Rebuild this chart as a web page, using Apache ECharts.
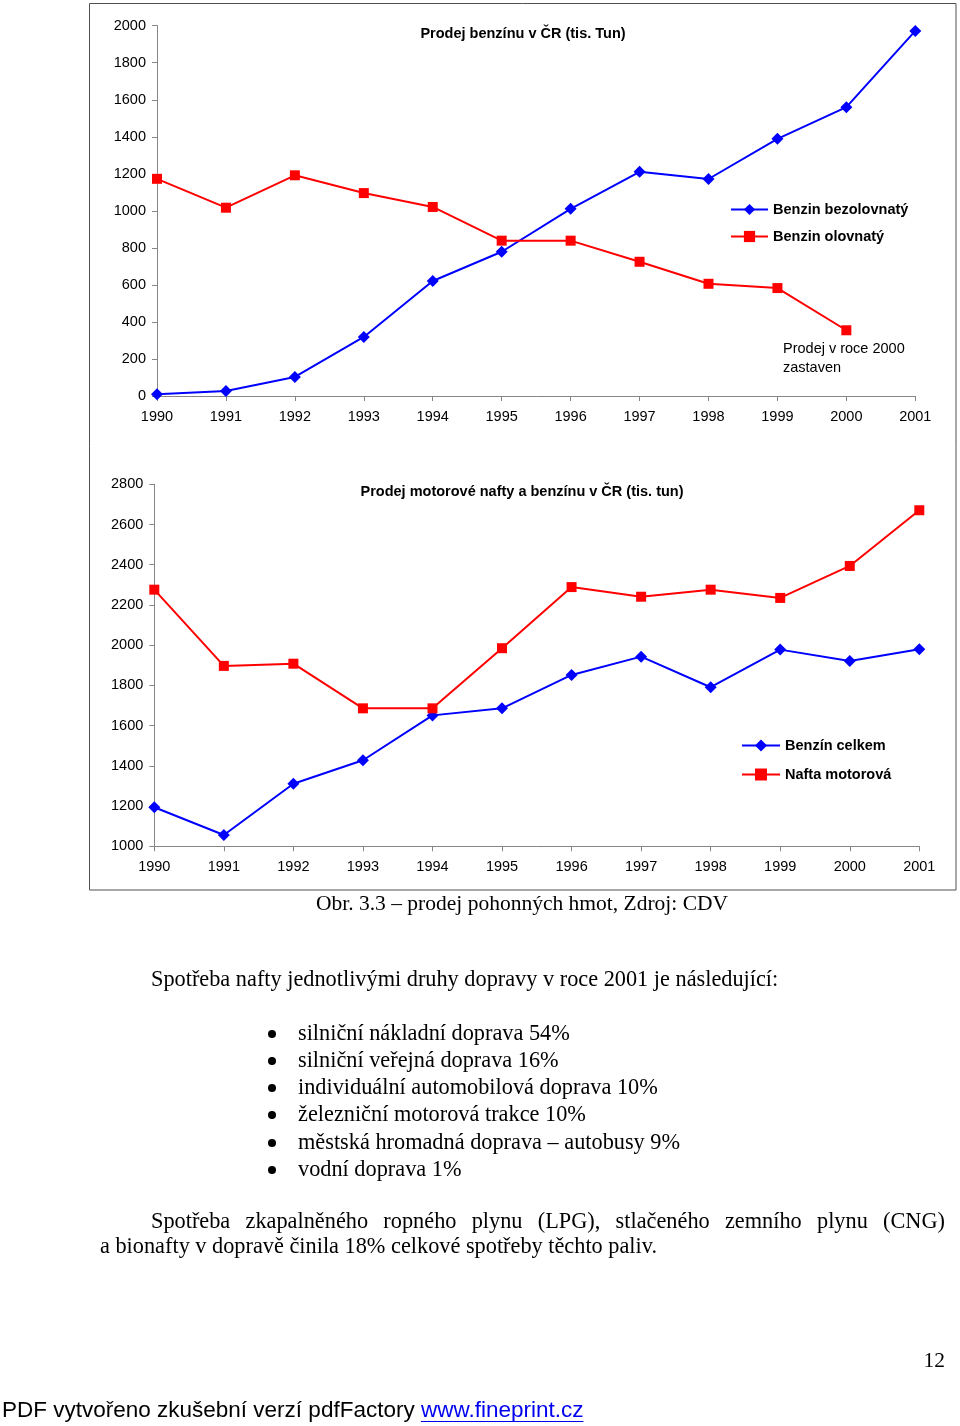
<!DOCTYPE html>
<html><head><meta charset="utf-8">
<script src="https://cdn.jsdelivr.net/npm/echarts@6/dist/echarts.min.js"></script>
<style>html,body{margin:0;padding:0;background:#fff}#c{width:960px;height:1426px}</style>
</head><body><div id="c"></div>
<script>
// ---------- data ----------
const years = ['1990','1991','1992','1993','1994','1995','1996','1997','1998','1999','2000','2001'];
const bezolovnaty = [10, 27, 103, 319, 621, 779, 1011, 1211, 1172, 1389, 1560, 1972];
const olovnaty = [1173, 1017, 1192, 1096, 1021, 839, 839, 725, 606, 583, 355, null];
const benzinCelkem = [1194, 1056, 1311, 1428, 1651, 1686, 1852, 1943, 1791, 1978, 1921, 1980];
const naftaMotorova = [2276, 1897, 1908, 1686, 1686, 1985, 2289, 2241, 2276, 2235, 2394, 2671];
const topAxis = { min: 0, max: 2000, interval: 200 };
const bottomAxis = { min: 1000, max: 2800, interval: 200 };
const topTitle = 'Prodej benzínu v ČR (tis. Tun)';
const bottomTitle = 'Prodej motorové nafty a benzínu v ČR (tis. tun)';
const topNames = ['Benzin bezolovnatý', 'Benzin olovnatý'];
const bottomNames = ['Benzín celkem', 'Nafta motorová'];
const note = ['Prodej v roce 2000', 'zastaven'];
const caption = 'Obr. 3.3 – prodej pohonných hmot, Zdroj: CDV';
const intro = 'Spotřeba nafty jednotlivými druhy dopravy v roce 2001 je následující:';
const bullets = [
  'silniční nákladní doprava 54%',
  'silniční veřejná doprava 16%',
  'individuální automobilová doprava 10%',
  'železniční motorová trakce 10%',
  'městská hromadná doprava – autobusy 9%',
  'vodní doprava 1%'
];
const para1 = 'Spotřeba zkapalněného ropného plynu (LPG), stlačeného zemního plynu (CNG)';
const para2 = 'a bionafty v dopravě činila 18% celkové spotřeby těchto paliv.';
const pageNo = '12';
const footer1 = 'PDF vytvořeno zkušební verzí pdfFactory ';
const footerLink = 'www.fineprint.cz';

// ---------- styles ----------
const SANS = '"Liberation Sans", Arial, sans-serif';
const SERIF = '"Liberation Serif", "Times New Roman", serif';
const BLUE = '#0000FF', RED = '#FF0000', AXIS = '#868686';
const FS = 14.5;
const captionFont = '21.5px ' + SERIF;
const serifFont = '22.3px ' + SERIF;

const mctx = document.createElement('canvas').getContext('2d');
function tw(str, font) { mctx.font = font; return mctx.measureText(str).width; }

const graphics = [];
function txt(x, y, s, font, opts) {
  graphics.push({
    type: 'text', x: x, y: y, silent: true,
    style: Object.assign({ text: s, font: font, fill: '#000', textAlign: 'left', textVerticalAlign: 'middle' }, (opts || {}))
  });
}

// frame
graphics.push({ type: 'rect', shape: { x: 89.5, y: 3.5, width: 866.5, height: 886.5 }, style: { fill: 'none', stroke: '#505050', lineWidth: 1 }, silent: true });
// chart titles
txt(523, 34, topTitle, 'bold ' + FS + 'px ' + SANS, { textAlign: 'center' });
txt(522, 492, bottomTitle, 'bold ' + FS + 'px ' + SANS, { textAlign: 'center' });
// note
txt(783, 349, note[0], FS + 'px ' + SANS);
txt(783, 368, note[1], FS + 'px ' + SANS);
// caption & text
txt(522, 904, caption, captionFont, { textAlign: 'center' });
txt(151, 980, intro, serifFont);
const by = [1034, 1061, 1088, 1115, 1143, 1170];
bullets.forEach((b, i) => {
  graphics.push({ type: 'circle', shape: { cx: 272, cy: by[i], r: 4 }, style: { fill: '#000' }, silent: true });
  txt(298, by[i], b, serifFont);
});
// justified line
(function () {
  const words = para1.split(' ');
  const left = 151, right = 945;
  const widths = words.map(w => tw(w, serifFont));
  const total = widths.reduce((a, b) => a + b, 0);
  const gap = (right - left - total) / (words.length - 1);
  let x = left;
  words.forEach((w, i) => { txt(x, 1222, w, serifFont); x += widths[i] + gap; });
})();
txt(100, 1247, para2, serifFont);
txt(945, 1361, pageNo, captionFont, { textAlign: 'right' });
// footer
const footFont = '22.5px ' + SANS;
txt(2, 1411, footer1, footFont);
const fx = 2 + tw(footer1, footFont);
txt(fx, 1411, footerLink, footFont, { fill: '#0000EE' });
graphics.push({ type: 'line', shape: { x1: fx, y1: 1421.5, x2: fx + tw(footerLink, footFont), y2: 1421.5 }, style: { stroke: '#0000EE', lineWidth: 1.2 }, silent: true });

function xAxis(gi) {
  return {
    type: 'category', gridIndex: gi, data: years, boundaryGap: false,
    axisLine: { lineStyle: { color: AXIS, width: 1 } },
    axisTick: { alignWithLabel: true, length: 5, lineStyle: { color: AXIS } },
    axisLabel: { color: '#000', fontFamily: SANS, fontSize: FS, margin: 13, interval: 0 },
    splitLine: { show: false }
  };
}
function yAxis(gi, ax) {
  return {
    type: 'value', gridIndex: gi, min: ax.min, max: ax.max, interval: ax.interval,
    axisLine: { show: true, lineStyle: { color: AXIS, width: 1 } },
    axisTick: { show: true, length: 5, lineStyle: { color: AXIS } },
    axisLabel: { color: '#000', fontFamily: SANS, fontSize: FS, margin: 11, formatter: v => String(v) },
    splitLine: { show: false }
  };
}
function ser(name, data, gi, color, symbol, size) {
  return {
    type: 'line', name: name, data: data, xAxisIndex: gi, yAxisIndex: gi,
    symbol: symbol, symbolSize: size, showAllSymbol: true, animation: false,
    lineStyle: { color: color, width: 2 }, itemStyle: { color: color },
    connectNulls: false
  };
}
const legendText = { color: '#000', fontFamily: SANS, fontSize: FS, fontWeight: 'bold' };

const chart = echarts.init(document.getElementById('c'), null, { renderer: 'canvas' });
chart.setOption({
  animation: false,
  backgroundColor: '#fff',
  grid: [
    { left: 157, top: 25.7, width: 758.3, height: 370.3 },
    { left: 154.3, top: 484.3, width: 765, height: 362 }
  ],
  xAxis: [xAxis(0), xAxis(1)],
  yAxis: [yAxis(0, topAxis), yAxis(1, bottomAxis)],
  legend: [
    { data: topNames, orient: 'vertical', left: 730, top: 202, itemWidth: 37, itemHeight: 14, itemGap: 12, textStyle: legendText, padding: 0 },
    { data: bottomNames, orient: 'vertical', left: 741, top: 738, itemWidth: 38, itemHeight: 15, itemGap: 14, textStyle: legendText, padding: 0 }
  ],
  series: [
    ser(topNames[0], bezolovnaty, 0, BLUE, 'diamond', 12),
    ser(topNames[1], olovnaty, 0, RED, 'rect', 10),
    ser(bottomNames[0], benzinCelkem, 1, BLUE, 'diamond', 12),
    ser(bottomNames[1], naftaMotorova, 1, RED, 'rect', 10)
  ],
  graphic: graphics
});
</script></body></html>
